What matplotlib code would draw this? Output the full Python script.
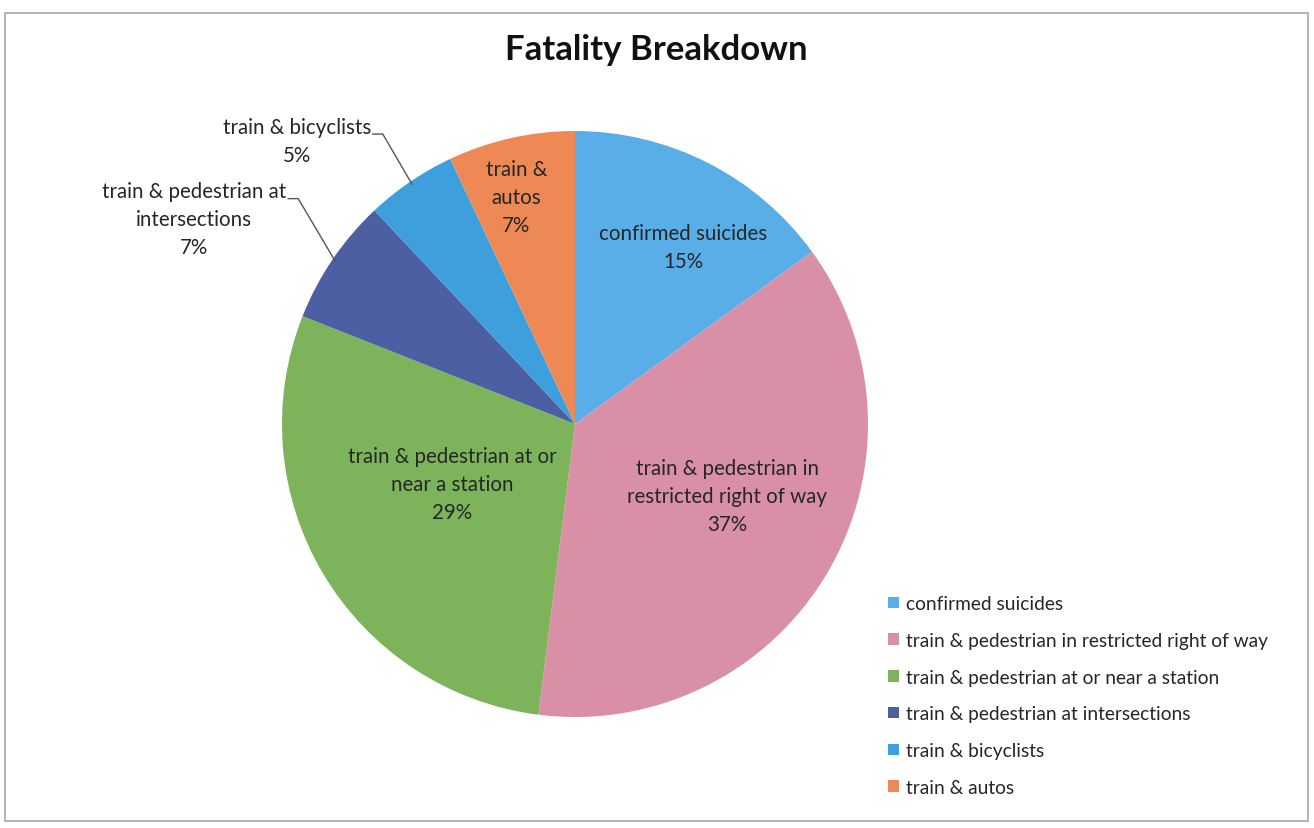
import matplotlib.pyplot as plt
import matplotlib.patches as mpatches
import numpy as np

plt.rcParams['font.family'] = ['Lato', 'DejaVu Sans']

categories = ['confirmed suicides',
              'train & pedestrian in restricted right of way',
              'train & pedestrian at or near a station',
              'train & pedestrian at intersections',
              'train & bicyclists',
              'train & autos']
pct = [15, 37, 29, 7, 5, 7]
slice_labels = ['confirmed suicides',
                'train & pedestrian in\nrestricted right of way',
                'train & pedestrian at or\nnear a station',
                'train & pedestrian at\nintersections',
                'train & bicyclists',
                'train &\nautos']
colors = ['#5aaee8', '#d98fa6', '#7db45b', '#4b5fa2', '#3d9fdc', '#ee8956']

# label spots in pie data units
label_pos = [(0.37, 0.605), (0.52, -0.245), (-0.42, -0.205),
             (-1.30, 0.70), (-0.95, 0.965), (-0.20, 0.775)]
outside = [False, False, False, True, True, False]

W, H = 1314, 829
fig = plt.figure(figsize=(W / 100, H / 100), dpi=100)
fig.patch.set_facecolor('white')

# chart frame
fig.patches.append(mpatches.Rectangle((5 / W, 7 / H), 1303 / W, 808 / H,
                                      transform=fig.transFigure, fill=False,
                                      edgecolor='#a8a8a8', linewidth=1.2))

cx, cy, r = 575, 425, 293
ax = fig.add_axes([(cx - r) / W, (H - cy - r) / H, 2 * r / W, 2 * r / H])
wedges, _ = ax.pie(pct, colors=colors, startangle=90, counterclock=False,
                   radius=1, wedgeprops=dict(linewidth=0))
ax.set_xlim(-1, 1)
ax.set_ylim(-1, 1)
ax.set_aspect('equal')
ax.axis('off')

txt_color = '#262626'
lab_size = 14.8
texts = []
for lab, p, (lx, ly) in zip(slice_labels, pct, label_pos):
    t = ax.text(lx, ly, f'{lab}\n{p}%', ha='center', va='center', fontsize=lab_size,
                color=txt_color, linespacing=1.5, clip_on=False)
    texts.append(t)

# leader lines for the labels sitting outside the pie
fig.canvas.draw()
renderer = fig.canvas.get_renderer()
inv = ax.transData.inverted()
for w, t, lab, out in zip(wedges, texts, slice_labels, outside):
    if not out:
        continue
    bb = t.get_window_extent(renderer)
    n_lines = lab.count('\n') + 2
    line_h = bb.height / n_lines
    # width of the first line, centred on the label
    tmp = ax.text(0, 0, lab.split('\n')[0], fontsize=lab_size)
    fw = tmp.get_window_extent(renderer).width
    tmp.remove()
    x_end = (bb.x0 + bb.x1) / 2 + fw / 2 + 2
    y_line = bb.y1 - line_h * 0.7
    sx, sy = inv.transform((x_end, y_line))
    ex, _ = inv.transform((x_end + 10, y_line))
    mid = np.deg2rad((w.theta1 + w.theta2) / 2)
    px, py = np.cos(mid) * 0.99, np.sin(mid) * 0.99
    ax.plot([sx, ex, px], [sy, sy, py], color='#555555', linewidth=1.0,
            clip_on=False)

fig.text(656 / W, 1 - 50 / H, 'Fatality Breakdown', ha='center', va='center',
         fontsize=25, fontweight='bold', color='#111111')

fig.legend(wedges, categories, loc='upper left',
           bbox_to_anchor=(871 / W, 1 - 579 / H), frameon=False,
           fontsize=13.8, labelcolor=txt_color, handlelength=0.55,
           handleheight=0.55, handletextpad=0.35, labelspacing=1.03)

fig.savefig('out.png', dpi=100, facecolor='white')
